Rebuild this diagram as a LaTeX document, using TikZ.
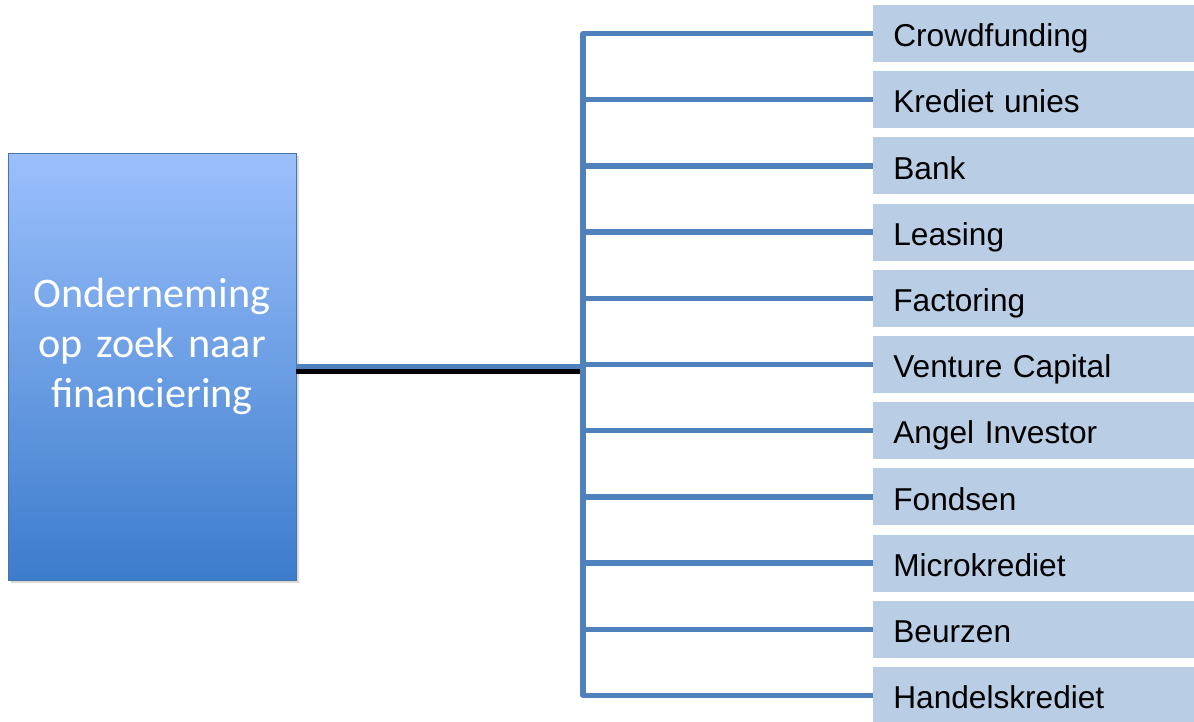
\documentclass[tikz,border=0pt]{standalone}
\usepackage{fontspec}
\setmainfont{Liberation Sans}
\newfontfamily\carlito{Carlito}
\usetikzlibrary{shadows}
\definecolor{lijnblauw}{RGB}{79,129,189}
\definecolor{vakblauw}{RGB}{185,205,229}
\definecolor{toplicht}{RGB}{155,192,252}
\definecolor{bodemdonker}{RGB}{60,124,204}
\tikzstyle{bron} = [rectangle, fill=vakblauw, minimum width=6.42cm, minimum height=1.14cm,
	inner xsep=0.4cm, text width=5.62cm, text height=15pt, text depth=0pt, align=left,
	anchor=west, font=\fontsize{18}{21}\selectfont]
\tikzstyle{tak} = [line width=3pt, draw=lijnblauw]

\begin{document}
\begin{tikzpicture}[x=0.02cm,y=-0.02cm]
\useasboundingbox (0,0) rectangle (1194,721);

% onderneming
\node [rectangle, draw=lijnblauw!90!black, thin, top color=toplicht, bottom color=bodemdonker,
	minimum width=5.76cm, minimum height=8.54cm, text width=5.4cm, align=center,
	text depth=84pt, text=white, font=\carlito\fontsize{24}{28.5}\selectfont,
	drop shadow={opacity=0.3, shadow xshift=1.5pt, shadow yshift=-1.5pt}]
	(ond) at (152,366.5) {Onderneming\\op zoek naar\\financiering};

% vormen van financiering
\node [bron] (b1) at (873,33.5) {Crowdfunding};
\node [bron] (b2) at (873,99.7) {Krediet unies};
\node [bron] (b3) at (873,165.9) {Bank};
\node [bron] (b4) at (873,232.1) {Leasing};
\node [bron] (b5) at (873,298.3) {Factoring};
\node [bron] (b6) at (873,364.5) {Venture Capital};
\node [bron] (b7) at (873,430.7) {Angel Investor};
\node [bron] (b8) at (873,496.9) {Fondsen};
\node [bron] (b9) at (873,563.1) {Microkrediet};
\node [bron] (b10) at (873,629.3) {Beurzen};
\node [bron] (b11) at (873,695.5) {Handelskrediet};

% stam
\coordinate (t1) at (583,33.5);
\coordinate (t2) at (583,99.7);
\coordinate (t3) at (583,165.9);
\coordinate (t4) at (583,232.1);
\coordinate (t5) at (583,298.3);
\coordinate (t6) at (583,364.5);
\coordinate (t7) at (583,430.7);
\coordinate (t8) at (583,496.9);
\coordinate (t9) at (583,563.1);
\coordinate (t10) at (583,629.3);
\coordinate (t11) at (583,695.5);

\draw [line width=3.2pt, draw=black, transform canvas={yshift=-2.6pt}] (ond.east) -- (ond.east -| t6); % schaduw
\draw [tak, line join=round] (b1.west) -- (t1) -- (t11) -- (b11.west);
\draw [tak] (t2) -- (b2.west); % 2
\draw [tak] (t3) -- (b3.west); % 3
\draw [tak] (t4) -- (b4.west); % 4
\draw [tak] (t5) -- (b5.west); % 5
\draw [tak] (t6) -- (b6.west); % 6
\draw [tak] (t7) -- (b7.west); % 7
\draw [tak] (t8) -- (b8.west); % 8
\draw [tak] (t9) -- (b9.west); % 9
\draw [tak] (t10) -- (b10.west); % 10
\draw [tak] (ond.east) -- (ond.east -| t6); % hoofdlijn

\end{tikzpicture}
\end{document}
